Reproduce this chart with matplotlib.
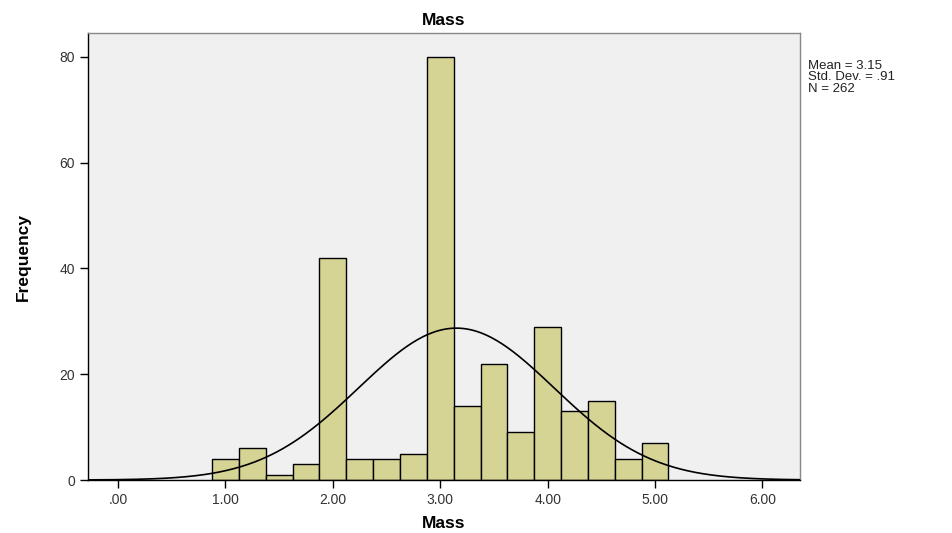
import numpy as np
import matplotlib
matplotlib.use("Agg")
import matplotlib.pyplot as plt

plt.rcParams['font.family'] = ['Liberation Sans', 'DejaVu Sans']

# histogram bins (width .25) and counts
bin_left = [0.875, 1.125, 1.375, 1.625, 1.875, 2.125, 2.375, 2.625, 2.875,
            3.125, 3.375, 3.625, 3.875, 4.125, 4.375, 4.625, 4.875]
counts = [4, 6, 1, 3, 42, 4, 4, 5, 80, 14, 22, 9, 29, 13, 15, 4, 7]
bin_width = 0.25

mean_val = 3.15
sd_val = 0.91
n_val = 262

x_ticks = [0, 1, 2, 3, 4, 5, 6]
x_labels = ['.00', '1.00', '2.00', '3.00', '4.00', '5.00', '6.00']
y_ticks = [0, 20, 40, 60, 80]

fig = plt.figure(figsize=(9.53, 5.33), dpi=100)
fig.patch.set_facecolor('white')
ax = fig.add_axes([0.0923, 0.0994, 0.7472, 0.8386])
ax.set_facecolor('#f0f0f0')

ax.bar(bin_left, counts, width=bin_width, align='edge',
       color='#d6d494', edgecolor='black', linewidth=1.0, zorder=2)

# normal curve scaled to counts
xs = np.linspace(-0.3, 6.4, 400)
ys = n_val * bin_width / (sd_val * np.sqrt(2 * np.pi)) * np.exp(-0.5 * ((xs - mean_val) / sd_val) ** 2)
ax.plot(xs, ys, color='black', linewidth=1.2, zorder=3)

ax.set_xlim(-0.28, 6.35)
ax.set_ylim(0, 84.5)
ax.set_xticks(x_ticks)
ax.set_xticklabels(x_labels)
ax.set_yticks(y_ticks)
ax.tick_params(axis='both', direction='out', length=6, width=1, colors='black',
               labelsize=10, labelcolor='#333333')

for sp in ax.spines.values():
    sp.set_linewidth(1.0)
ax.spines['top'].set_color('#888888')
ax.spines['right'].set_color('#888888')

ax.set_title('Mass', fontsize=12.5, fontweight='bold', pad=6)
ax.set_xlabel('Mass', fontsize=12.5, fontweight='bold', labelpad=6)
ax.set_ylabel('Frequency', fontsize=12.5, fontweight='bold', labelpad=20,
              family=['Liberation Sans Narrow', 'Liberation Sans', 'DejaVu Sans'])

fig.text(0.848, 0.888, 'Mean = 3.15\nStd. Dev. = .91\nN = 262',
         fontsize=9.5, va='top', ha='left', linespacing=0.95, color='#222222')

fig.savefig('out.png', dpi=100)
